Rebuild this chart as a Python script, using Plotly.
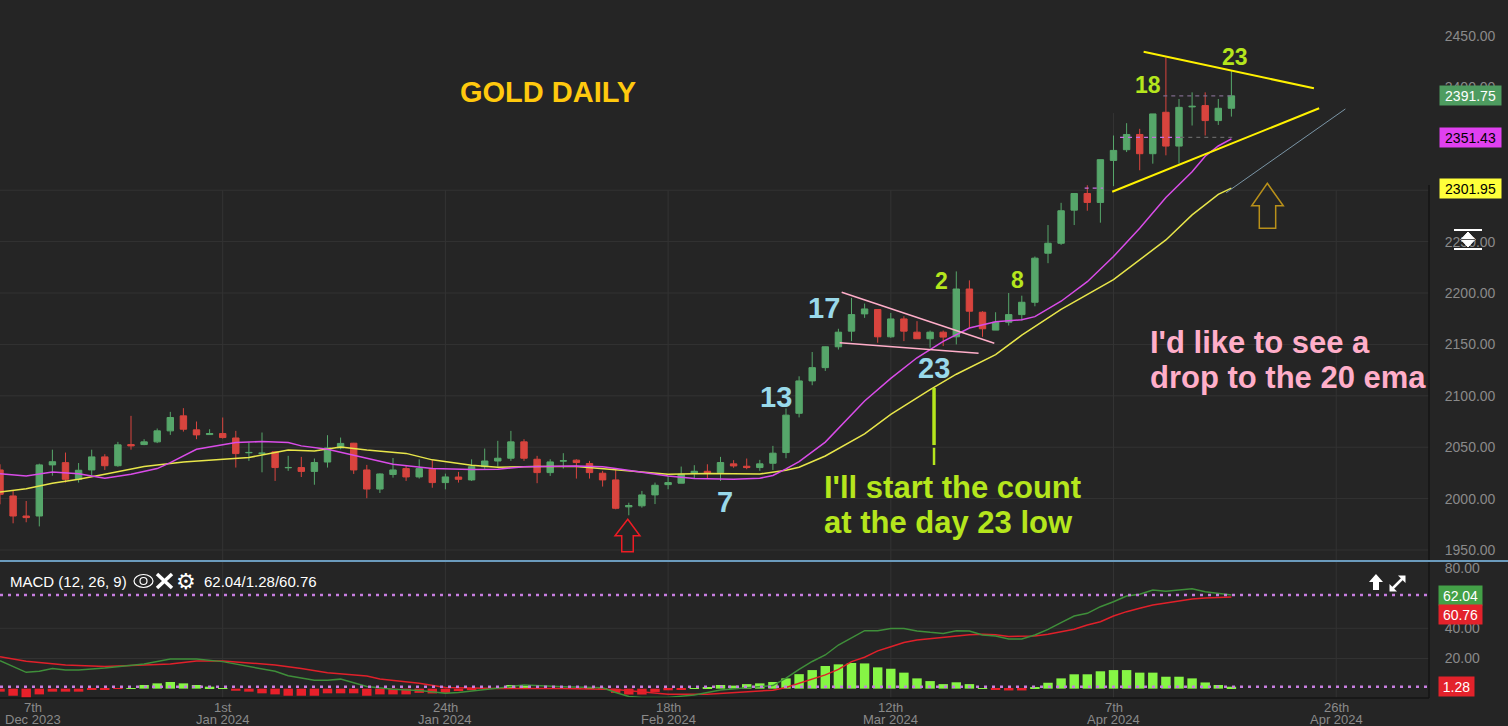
import plotly.graph_objects as go

# ---------------- DATA ----------------
candle_idx = list(range(95))
opens = [2027.9, 2002.6, 1983.1, 1983.1, 2032.8, 2035.0, 2018.8, 2027.9, 2040.6, 2032.0,
         2052.6, 2052.6, 2055.2, 2065.9, 2080.5, 2066.9, 2062.3, 2063.3, 2059.0, 2044.6,
         2044.0, 2045.5, 2030.0, 2030.2, 2026.5, 2035.6, 2049.3, 2053.9, 2027.9, 2009.3,
         2023.5, 2029.2, 2021.1, 2028.6, 2015.6, 2021.0, 2018.2, 2031.0, 2036.6, 2039.3,
         2055.2, 2038.3, 2025.3, 2036.5, 2037.4, 2034.1, 2024.7, 2018.2, 1992.0, 1993.0,
         2003.6, 2013.6, 2015.0, 2024.3, 2026.6, 2025.3, 2033.8, 2031.5, 2030.2, 2034.4,
         2044.8, 2083.0, 2114.5, 2127.4, 2147.7, 2162.9, 2179.7, 2183.9, 2157.4, 2174.8,
         2161.9, 2155.5, 2161.9, 2157.4, 2203.9, 2181.3, 2163.9, 2171.6, 2179.0, 2191.0,
         2238.7, 2248.4, 2280.6, 2296.8, 2288.1, 2329.0, 2339.4, 2354.2, 2335.5, 2375.8,
         2342.9, 2381.0, 2382.3, 2367.7, 2379.7]
highs = [2033.4, 2007.5, 1997.7, 2034.0, 2047.6, 2044.8, 2034.6, 2047.6, 2043.2, 2055.2,
         2080.5, 2057.8, 2068.2, 2084.4, 2088.0, 2075.0, 2067.5, 2078.9, 2065.9, 2054.5,
         2064.3, 2045.8, 2041.6, 2040.6, 2039.0, 2061.7, 2059.4, 2054.2, 2032.8, 2024.6,
         2039.5, 2032.5, 2038.2, 2037.4, 2024.3, 2026.0, 2038.2, 2048.7, 2056.2, 2065.9,
         2057.8, 2041.6, 2038.3, 2044.2, 2038.3, 2036.7, 2027.0, 2029.2, 1996.0, 2007.5,
         2015.6, 2022.1, 2031.2, 2032.5, 2033.4, 2040.6, 2037.4, 2039.0, 2037.7, 2051.3,
         2087.7, 2119.0, 2142.6, 2148.0, 2165.2, 2195.2, 2189.7, 2184.0, 2180.6, 2177.4,
         2172.6, 2163.5, 2163.5, 2221.0, 2212.3, 2182.3, 2181.3, 2200.0, 2197.4, 2235.5,
         2266.1, 2287.7, 2296.8, 2304.8, 2329.7, 2353.2, 2365.2, 2359.7, 2374.2, 2429.0,
         2388.7, 2395.2, 2395.2, 2388.7, 2416.8]
lows = [1994.5, 1976.0, 1977.0, 1973.0, 2022.3, 2015.6, 2015.6, 2022.3, 2027.9, 2031.0,
        2047.6, 2052.0, 2054.0, 2062.0, 2065.2, 2057.8, 2062.0, 2058.4, 2030.2, 2036.7,
        2025.6, 2017.2, 2027.0, 2021.0, 2013.5, 2030.2, 2048.0, 2024.0, 2000.4, 2005.5,
        2020.4, 2017.2, 2019.5, 2010.6, 2009.0, 2015.6, 2017.2, 2029.0, 2031.0, 2036.7,
        2036.7, 2015.0, 2022.1, 2029.2, 2019.5, 2019.5, 2011.7, 1989.6, 1983.8, 1991.2,
        1994.7, 2009.1, 2015.0, 2019.5, 2019.5, 2017.2, 2030.0, 2028.6, 2027.0, 2027.9,
        2039.3, 2079.0, 2110.3, 2124.2, 2145.0, 2153.2, 2175.8, 2151.6, 2156.4, 2153.2,
        2155.5, 2146.8, 2148.4, 2150.0, 2166.1, 2157.4, 2163.9, 2168.4, 2173.2, 2187.1,
        2229.0, 2246.8, 2266.1, 2280.0, 2268.4, 2303.9, 2337.1, 2319.4, 2325.8, 2333.9,
        2325.8, 2362.9, 2353.2, 2363.5, 2371.6]
closes = [2004.2, 1983.1, 1981.5, 2032.8, 2035.9, 2018.8, 2027.6, 2040.6, 2032.0, 2052.3,
          2051.3, 2055.2, 2065.9, 2078.9, 2067.5, 2062.0, 2063.3, 2059.4, 2043.8, 2044.9,
          2044.2, 2030.2, 2030.3, 2026.5, 2035.1, 2049.3, 2053.7, 2027.9, 2009.3, 2024.0,
          2027.9, 2021.1, 2029.2, 2015.6, 2021.1, 2018.8, 2031.0, 2036.6, 2039.3, 2055.2,
          2039.3, 2025.3, 2035.7, 2036.8, 2035.1, 2025.3, 2018.2, 1990.6, 1993.3, 2003.6,
          2013.0, 2015.6, 2023.7, 2026.6, 2025.0, 2035.1, 2031.8, 2030.2, 2033.8, 2044.2,
          2081.2, 2114.5, 2127.4, 2147.7, 2161.9, 2179.0, 2184.5, 2157.4, 2174.8, 2162.9,
          2155.5, 2161.9, 2157.1, 2203.9, 2182.3, 2165.2, 2171.6, 2179.0, 2191.0, 2233.9,
          2248.4, 2280.0, 2296.8, 2288.1, 2329.7, 2338.7, 2354.2, 2335.5, 2374.2, 2342.9,
          2380.6, 2381.6, 2367.7, 2379.7, 2391.75]

ema_fast_x = [0, 2, 4, 6, 8, 10, 12, 13, 15, 18, 20, 22, 23, 25, 28, 30, 33, 36, 38, 40,
              44, 46, 47, 49, 51, 53, 56, 58, 59, 60, 61, 63, 66, 68, 70, 72, 74, 76, 78, 79,
              81, 83, 85, 87, 89, 91, 92, 93, 94]
ema_fast = [2024.3, 2022.0, 2026.0, 2024.3, 2019.8, 2023.7, 2029.2, 2035.0, 2048.0, 2054.5,
            2055.5, 2054.5, 2051.3, 2048.0, 2039.3, 2033.4, 2029.2, 2028.3, 2028.6, 2031.0,
            2031.8, 2031.0, 2029.2, 2025.3, 2022.0, 2019.5, 2018.8, 2019.8, 2022.5, 2029.0,
            2036.0, 2055.0, 2095.0, 2117.0, 2137.0, 2153.0, 2166.0, 2172.0, 2174.0, 2177.0,
            2192.0, 2211.0, 2235.5, 2263.0, 2293.0, 2318.0, 2333.0, 2343.0, 2350.0]
ema20_x = [0, 2, 4, 6, 8, 11, 14, 18, 19, 22, 24, 26, 28, 31, 33, 36, 38, 41, 44, 47,
           51, 54, 58, 60, 61, 63, 66, 68, 71, 73, 76, 78, 81, 85, 87, 89, 91, 93, 94]
ema20 = [2006.5, 2009.7, 2015.0, 2018.8, 2023.7, 2031.2, 2035.7, 2039.3, 2040.0, 2047.4,
         2046.4, 2050.3, 2047.4, 2044.0, 2037.7, 2032.5, 2030.5, 2031.2, 2031.2, 2028.0,
         2023.7, 2024.5, 2024.0, 2027.5, 2030.5, 2041.5, 2063.0, 2082.0, 2106.0, 2121.0,
         2140.0, 2159.0, 2184.0, 2213.0, 2232.0, 2251.6, 2276.0, 2296.0, 2301.95]

macd_x = [0, 2, 3, 4, 5, 6, 8, 10, 11, 13, 15, 17, 19, 21, 22, 23, 24, 25, 26, 28,
          30, 32, 34, 35, 37, 40, 43, 46, 47, 48, 49, 51, 53, 55, 57, 59, 60, 61, 62, 63,
          64, 65, 66, 67, 68, 69, 70, 71, 72, 73, 74, 75, 76, 77, 78, 79, 80, 81, 82, 83,
          84, 85, 86, 87, 88, 89, 90, 91, 92, 93, 94]
macd_line = [18.5, 10.8, 11.5, 13.4, 12.3, 12.3, 13.6, 15.2, 16.3, 19.6, 19.6, 17.9, 14.5,
             11.5, 8.5, 6.8, 5.6, 5.5, 6.3, 1.4, -0.4, -1.2, -3.0, -2.6, -0.5, 2.4, 1.3,
             0.6, -2.5, -5.2, -5.8, -5.8, -4.2, -0.9, 0.6, 2.0, 7.0, 12.8, 18.0, 22.3,
             28.9, 33.8, 38.4, 38.4, 39.9, 39.9, 38.2, 37.3, 36.6, 38.4, 38.2, 35.5, 34.9,
             32.9, 32.9, 35.5, 39.3, 43.7, 48.1, 49.9, 54.3, 57.6, 61.4, 62.5, 65.4, 64.5,
             65.4, 66.2, 64.2, 63.3, 62.04]
signal_x = [0, 2, 5, 8, 10, 13, 15, 17, 19, 21, 23, 25, 28, 29, 32, 34, 38, 43, 47, 51,
            54, 57, 59, 60, 61, 62, 63, 64, 65, 66, 67, 68, 69, 70, 71, 72, 73, 74, 75, 76,
            77, 78, 79, 80, 81, 82, 83, 84, 85, 86, 87, 88, 89, 90, 91, 92, 93, 94]
signal_line = [21.1, 18.1, 15.7, 14.6, 15.3, 16.3, 18.3, 18.3, 17.0, 15.7, 13.3, 10.5, 8.4,
               6.4, 3.6, 0.8, 0.1, 0.1, -0.6, -3.7, -3.7, -2.3, -1.0, 0.8, 3.5, 6.2, 9.1,
               12.8, 17.9, 20.8, 25.0, 27.8, 30.5, 32.2, 33.1, 33.8, 34.9, 35.7, 36.0, 35.7,
               34.6, 34.6, 34.9, 36.0, 37.7, 39.3, 42.1, 44.3, 48.1, 51.0, 53.2, 55.4, 56.8,
               58.2, 59.4, 60.1, 60.5, 60.76]
histogram = [-2.0, -4.7, -6.4, -3.8, -2.0, -2.0, -2.0, -0.5, -0.5, -0.1,
             0.3, 2.4, 3.5, 4.4, 3.5, 2.4, 1.3, 0.2, -1.4, -2.0,
             -3.1, -3.8, -4.7, -4.7, -4.7, -3.1, -3.1, -3.1, -4.7, -3.8,
             -3.8, -3.8, -2.8, -3.2, -2.8, -1.6, -1.0, -0.2, 0.1, 2.4,
             2.4, 0.3, 0.3, 0.2, 0.1, 0.1, -0.2, -2.8, -3.9, -3.9,
             -2.2, -1.1, -0.4, 0.1, 0.5, 2.4, 2.0, 3.0, 3.5, 4.4,
             6.8, 9.6, 12.3, 15.0, 16.1, 17.0, 16.7, 14.1, 13.2, 10.6,
             6.8, 5.0, 3.0, 4.2, 3.0, 0.2, -0.8, -1.2, -1.2, 0.5,
             3.9, 6.8, 9.5, 9.5, 11.5, 12.3, 12.3, 10.6, 10.6, 7.9,
             7.9, 6.8, 4.1, 2.4, 1.28]

date_tick_idx = [17, 34, 51, 68, 85, 102]
date_tick_day = ["1st", "24th", "18th", "12th", "7th", "26th"]
date_tick_month = ["Jan 2024", "Jan 2024", "Feb 2024", "Mar 2024", "Apr 2024", "Apr 2024"]
first_date_day, first_date_month = "7th", "Dec 2023"
price_ticks = [1950, 2000, 2050, 2100, 2150, 2200, 2250, 2300, 2350, 2400, 2450]
price_grid = [1950, 2000, 2050, 2100, 2150, 2200, 2250, 2300]
macd_ticks = [0, 20, 40, 60, 80]
macd_grid = [20, 40]

last_price, ema_fast_last, ema20_last = 2391.75, 2351.43, 2301.95
macd_last, hist_last, signal_last = 62.04, 1.28, 60.76

# hand-drawn trendlines (candle index, price)
yellow_lines = [((87.3, 2434.7), (100.3, 2399.1)), ((84.9, 2298.5), (100.7, 2379.7))]
gray_line = ((93.6, 2297.6), (102.7, 2379.0))
pink_lines = [((64.25, 2200.7), (75.9, 2151.1)), ((64.1, 2151.7), (74.7, 2141.3))]
green_marker = [((71.3, 2107.6), (71.3, 2052.1)), ((71.3, 2049.5), (71.3, 2032.7))]
red_arrow = [(47.92, 1979.9), (48.85, 1963.9), (48.34, 1963.9), (48.34, 1948.3),
             (47.46, 1948.3), (47.46, 1963.9), (46.95, 1963.9)]
gold_arrow = [(96.74, 2306.7), (97.96, 2284.9), (97.38, 2284.9), (97.38, 2262.9),
              (96.13, 2262.9), (96.13, 2284.9), (95.55, 2284.9)]

# ---------------- STYLE ----------------
BG = "#252525"
GRID = "#333333"
AX = "#8a8a8a"
GREEN = "#56a66a"
RED = "#d8443e"
FONT = "Liberation Sans, Arial, sans-serif"
W, H = 1508, 726
PL_R = 1429          # right edge of plot area (px)
PL_B = 698           # bottom edge of plot area (px)


def px(x):
    return x / PL_R


def py(y):
    return (PL_B - y) / PL_B


def ppath(points):
    return "M" + " L".join(f"{px(a):.5f},{py(b):.5f}" for a, b in points) + " Z"


def dpath(points):
    return "M" + " L".join(f"{a},{b}" for a, b in points) + " Z"


fig = go.Figure()

fig.add_trace(go.Candlestick(
    x=candle_idx, open=opens, high=highs, low=lows, close=closes,
    increasing=dict(line=dict(color=GREEN, width=1), fillcolor=GREEN),
    decreasing=dict(line=dict(color=RED, width=1), fillcolor=RED),
    whiskerwidth=0, xaxis="x", yaxis="y", showlegend=False, hoverinfo="skip"))
fig.add_trace(go.Scatter(x=ema20_x, y=ema20, mode="lines", xaxis="x", yaxis="y",
                         line=dict(color="#e8e64a", width=1.5), showlegend=False))
fig.add_trace(go.Scatter(x=ema_fast_x, y=ema_fast, mode="lines", xaxis="x", yaxis="y",
                         line=dict(color="#d94ce8", width=1.5), showlegend=False))

fig.add_trace(go.Bar(x=candle_idx, y=histogram, width=0.72, xaxis="x", yaxis="y2",
                     marker=dict(color=["#86f545" if v >= 0 else "#e8202a" for v in histogram],
                                 line=dict(width=0)), showlegend=False))
fig.add_trace(go.Scatter(x=signal_x, y=signal_line, mode="lines", xaxis="x", yaxis="y2",
                         line=dict(color="#e0202a", width=1.5), showlegend=False))
fig.add_trace(go.Scatter(x=macd_x, y=macd_line, mode="lines", xaxis="x", yaxis="y2",
                         line=dict(color="#3f8f3a", width=1.5), showlegend=False))

shapes = []
for p in price_grid:
    shapes.append(dict(type="line", xref="paper", yref="y", x0=0, x1=1, y0=p, y1=p,
                       line=dict(color=GRID, width=1), layer="below"))
for v in macd_grid:
    shapes.append(dict(type="line", xref="paper", yref="y2", x0=0, x1=1, y0=v, y1=v,
                       line=dict(color=GRID, width=1), layer="below"))
for t in date_tick_idx:
    top = 2375 if t == 85 else 2300
    shapes.append(dict(type="line", xref="x", yref="y", x0=t, x1=t, y0=1940, y1=top,
                       line=dict(color=GRID, width=1), layer="below"))
    shapes.append(dict(type="line", xref="x", yref="y2", x0=t, x1=t, y0=-7, y1=85,
                       line=dict(color=GRID, width=1), layer="below"))

# small price markers near the last candles
for (xa, xb, yv, col) in [(85.5, 90.1, ema_fast_last, "#c66fe0"), (90.1, 94.2, ema_fast_last, "#666666"),
                          (82.8, 84.2, ema20_last, "#c66fe0"), (88.8, 94.2, last_price, "#7d6a8a")]:
    shapes.append(dict(type="line", xref="x", yref="y", x0=xa, x1=xb, y0=yv, y1=yv,
                       line=dict(color=col, width=1.2, dash="4px,4px")))

# MACD dotted levels
for v in (macd_last, hist_last):
    shapes.append(dict(type="line", xref="paper", yref="y2", x0=0, x1=1, y0=v, y1=v,
                       line=dict(color="#c77ee0", width=2.5, dash="3px,5px")))

# trendlines
for (a, b) in yellow_lines:
    shapes.append(dict(type="line", xref="x", yref="y", x0=a[0], y0=a[1], x1=b[0], y1=b[1],
                       line=dict(color="#fff200", width=2)))
shapes.append(dict(type="line", xref="x", yref="y", x0=gray_line[0][0], y0=gray_line[0][1],
                   x1=gray_line[1][0], y1=gray_line[1][1], line=dict(color="#7a95a6", width=1)))
for (a, b) in pink_lines:
    shapes.append(dict(type="line", xref="x", yref="y", x0=a[0], y0=a[1], x1=b[0], y1=b[1],
                       line=dict(color="#ffaec9", width=1.5)))
for k, (a, b) in enumerate(green_marker):
    shapes.append(dict(type="line", xref="x", yref="y", x0=a[0], y0=a[1], x1=b[0], y1=b[1],
                       line=dict(color="#b5e61d", width=3.5 if k == 0 else 2.5)))
shapes.append(dict(type="path", xref="x", yref="y", path=dpath(red_arrow),
                   line=dict(color="#ed1c24", width=1.5), fillcolor="rgba(0,0,0,0)"))
shapes.append(dict(type="path", xref="x", yref="y", path=dpath(gold_arrow),
                   line=dict(color="#b8901a", width=1.5), fillcolor="rgba(0,0,0,0)"))

# panel separators / borders
shapes.append(dict(type="line", xref="paper", yref="paper", x0=0, x1=W / PL_R, y0=py(561), y1=py(561),
                   line=dict(color="#6b9bbd", width=2)))
shapes.append(dict(type="line", xref="paper", yref="paper", x0=1, x1=1, y0=py(560), y1=py(185),
                   line=dict(color="#141414", width=1.5)))
shapes.append(dict(type="line", xref="paper", yref="paper", x0=1, x1=1, y0=0, y1=py(562),
                   line=dict(color="#141414", width=1.5)))
shapes.append(dict(type="line", xref="paper", yref="paper", x0=0, x1=1, y0=0, y1=0,
                   line=dict(color="#141414", width=1.5)))

# scale icon at right axis
for yy in (230, 249):
    shapes.append(dict(type="line", xref="paper", yref="paper", x0=px(1454), x1=px(1482),
                       y0=py(yy), y1=py(yy), line=dict(color="white", width=2)))
shapes.append(dict(type="path", xref="paper", yref="paper",
                   path=ppath([(1468, 232), (1475, 239.5), (1468, 247), (1461, 239.5)]),
                   fillcolor="white", line=dict(color="white", width=1)))
shapes.append(dict(type="line", xref="paper", yref="paper", x0=px(1461), x1=px(1475),
                   y0=py(239.5), y1=py(239.5), line=dict(color="#555555", width=1)))

# MACD header icons: eye and X
shapes.append(dict(type="circle", xref="paper", yref="paper", x0=px(134), x1=px(153),
                   y0=py(587.5), y1=py(574.5), line=dict(color="white", width=1.2)))
shapes.append(dict(type="circle", xref="paper", yref="paper", x0=px(140), x1=px(147),
                   y0=py(584.5), y1=py(577.5), line=dict(color="white", width=1.2)))
shapes.append(dict(type="line", xref="paper", yref="paper", x0=px(157), x1=px(172),
                   y0=py(574), y1=py(588), line=dict(color="white", width=3.5)))
shapes.append(dict(type="line", xref="paper", yref="paper", x0=px(157), x1=px(172),
                   y0=py(588), y1=py(574), line=dict(color="white", width=3.5)))
# MACD panel right-top icons: up arrow, expand
shapes.append(dict(type="path", xref="paper", yref="paper",
                   path=ppath([(1376, 574), (1383, 582), (1379, 582), (1379, 590), (1373, 590),
                               (1373, 582), (1369, 582)]), fillcolor="white", line=dict(width=0)))
shapes.append(dict(type="line", xref="paper", yref="paper", x0=px(1392), x1=px(1403),
                   y0=py(589), y1=py(578), line=dict(color="white", width=2.5)))
shapes.append(dict(type="path", xref="paper", yref="paper",
                   path=ppath([(1405.5, 575.5), (1405.5, 583), (1398, 575.5)]),
                   fillcolor="white", line=dict(width=0)))
shapes.append(dict(type="path", xref="paper", yref="paper",
                   path=ppath([(1389.5, 591.5), (1389.5, 584), (1397, 591.5)]),
                   fillcolor="white", line=dict(width=0)))

ann = []


def txt(x, y, text, color, size, xanchor="center", xref="x", yref="y", family=FONT, bold=True):
    ann.append(dict(x=x, y=y, xref=xref, yref=yref, text=(f"<b>{text}</b>" if bold else text),
                    showarrow=False, xanchor=xanchor, yanchor="middle",
                    font=dict(color=color, size=size, family=family)))


txt(41.8, 2395.5, "GOLD DAILY", "#ffc90e", 29)
BLUE, LIME, ROSE = "#99d9ea", "#b5e61d", "#ffaec9"
txt(62.9, 2185.4, "17", BLUE, 29)
txt(59.2, 2098.8, "13", BLUE, 29)
txt(55.35, 1996.7, "7", BLUE, 29)
txt(71.26, 2127.0, "23", BLUE, 29)
txt(71.9, 2211.7, "2", LIME, 23)
txt(77.7, 2212.2, "8", LIME, 23)
txt(87.6, 2402.3, "18", LIME, 23)
txt(94.27, 2429.6, "23", LIME, 23)
txt(62.75, 2011.3, "I'll start the count", LIME, 31, xanchor="left")
txt(62.75, 1977.2, "at the day 23 low", LIME, 31, xanchor="left")
txt(87.6, 2152.3, "I'd like to see a", ROSE, 31, xanchor="left")
txt(87.6, 2118.3, "drop to the 20 ema", ROSE, 31, xanchor="left")

# MACD header
txt(px(8), py(581), "MACD (12, 26, 9)", "white", 15, xanchor="left", xref="paper", yref="paper", bold=False)
txt(px(185.5), py(581), "⚙", "white", 22, xref="paper", yref="paper",
    family="DejaVu Sans", bold=False)
txt(px(202), py(581), f"{macd_last:.2f}/{hist_last:.2f}/{signal_last:.2f}", "white", 15,
    xanchor="left", xref="paper", yref="paper", bold=False)

# date labels: day row and month row
day_y, month_y = py(707.5), py(719.5)
txt(px(33), day_y, first_date_day, AX, 13, xref="paper", yref="paper", bold=False)
txt(px(33), month_y, first_date_month, AX, 13, xref="paper", yref="paper", bold=False)
for t, d, m in zip(date_tick_idx, date_tick_day, date_tick_month):
    txt(t, day_y, d, AX, 13, xref="x", yref="paper", bold=False)
    txt(t, month_y, m, AX, 13, xref="x", yref="paper", bold=False)


def box(yval, text, bg, fg, yref="y", width=57, x=1439):
    ann.append(dict(x=px(x), y=yval, xref="paper", yref=yref, text=text, showarrow=False,
                    xanchor="left", yanchor="middle", bgcolor=bg, width=width, height=15,
                    borderpad=2, font=dict(color=fg, size=14, family=FONT)))


box(last_price, f"{last_price:.2f}", "#4e9c60", "white")
box(ema_fast_last, f"{ema_fast_last:.2f}", "#e040f0", "black")
box(ema20_last, f"{ema20_last:.2f}", "#ffff3a", "black")
box(macd_last, f"{macd_last:.2f}", "#43a047", "white", yref="y2", width=39, x=1437.5)
box(49.4, f"{signal_last:.2f}", "#e3222b", "white", yref="y2", width=39, x=1437.5)
box(hist_last, f"{hist_last:.2f}", "#e3222b", "white", yref="y2", width=31, x=1437.5)

axis_font = dict(size=14, color=AX, family=FONT)
fig.update_layout(
    width=W, height=H,
    margin=dict(l=0, r=W - PL_R, t=0, b=H - PL_B, autoexpand=False),
    paper_bgcolor=BG, plot_bgcolor=BG, showlegend=False, hovermode=False,
    xaxis=dict(range=[0, PL_R / 13.1], tickvals=date_tick_idx, showticklabels=False,
               showgrid=False, zeroline=False, showline=False, ticks="",
               anchor="y2", rangeslider=dict(visible=False), automargin=False),
    yaxis=dict(domain=[(PL_B - 560) / PL_B, 1], range=[1940.3, 2485.0], side="right",
               tickvals=price_ticks, ticktext=[f"{v:.2f}" for v in price_ticks],
               showgrid=False, zeroline=False, ticks="outside", ticklen=12, tickcolor=BG,
               tickfont=axis_font, anchor="x", automargin=False),
    yaxis2=dict(domain=[0, (PL_B - 562) / PL_B], range=[-6.2, 83.9], side="right",
                tickvals=macd_ticks, ticktext=[f"{v:.2f}" for v in macd_ticks],
                showgrid=False, zeroline=False, ticks="outside", ticklen=12, tickcolor=BG,
                tickfont=axis_font, anchor="x", automargin=False),
    shapes=shapes, annotations=ann, barmode="overlay",
)

fig.write_html("out.html", config={"displayModeBar": False},
               post_script="document.body.style.margin='0';document.body.style.background='#252525';")
